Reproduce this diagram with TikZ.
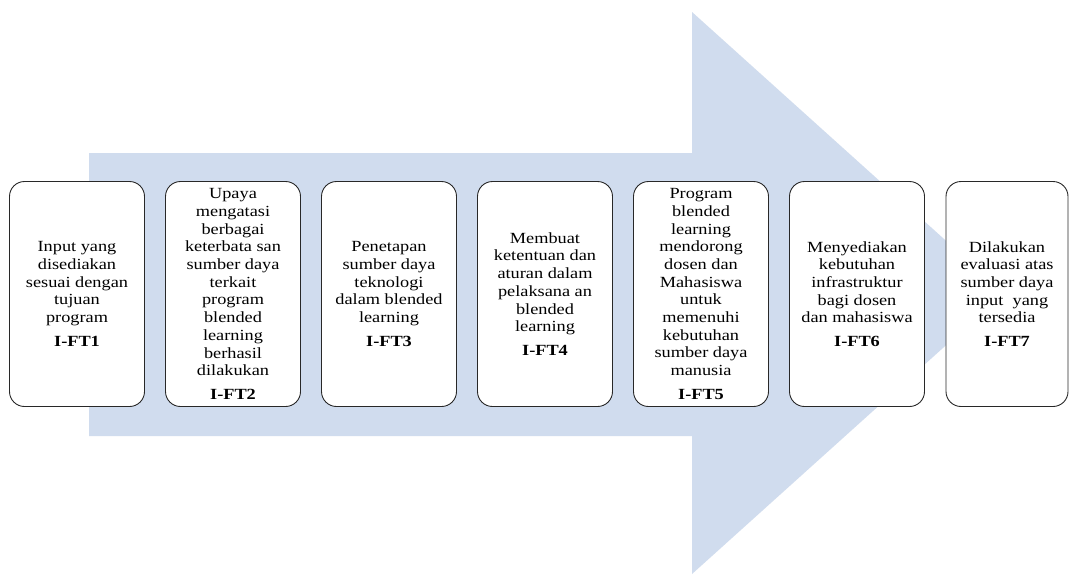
\documentclass[tikz,border=0pt]{standalone}
\usepackage{fontspec}
\setmainfont{Liberation Serif}[FakeStretch=1.18]
\definecolor{arrowblue}{RGB}{208,220,238}
\definecolor{boxline}{RGB}{40,40,40}
\tikzset{
  flowbox/.style={draw=boxline, line width=0.9pt, fill=white, rounded corners=15pt,
    minimum width=135pt, minimum height=225pt, align=center, inner sep=2pt,
    font=\fontsize{15.5pt}{17.7pt}\selectfont},
  bigarrow/.style={fill=arrowblue, draw=none}
}
\begin{document}
\begin{tikzpicture}[x=1pt,y=-1pt]
\useasboundingbox (0,0) rectangle (1070,574);
\fill[white] (0,0) rectangle (1070,574);
% big background arrow
\path[bigarrow] (89,153) -- (692,153) -- (692,12) -- (1004,293) -- (692,574) -- (692,436) -- (89,436) -- cycle;
% boxes
\node[flowbox] (b1) at (77,294) {Input yang\\disediakan\\sesuai dengan\\tujuan\\program\\[6pt]\textbf{I-FT1}};
\node[flowbox] (b2) at (233,294) {Upaya\\mengatasi\\berbagai\\keterbata san\\sumber daya\\terkait\\program\\blended\\learning\\berhasil\\dilakukan\\[6pt]\textbf{I-FT2}};
\node[flowbox] (b3) at (389,294) {Penetapan\\sumber daya\\teknologi\\dalam blended\\learning\\[6pt]\textbf{I-FT3}};
\node[flowbox] (b4) at (545,294) {Membuat\\ketentuan dan\\aturan dalam\\pelaksana an\\blended\\learning\\[6pt]\textbf{I-FT4}};
\node[flowbox] (b5) at (701,294) {Program\\blended\\learning\\mendorong\\dosen dan\\Mahasiswa\\untuk\\memenuhi\\kebutuhan\\sumber daya\\manusia\\[6pt]\textbf{I-FT5}};
\node[flowbox] (b6) at (857,294) {Menyediakan\\kebutuhan\\infrastruktur\\bagi dosen\\dan mahasiswa\\[6pt]\textbf{I-FT6}};
\node[flowbox, minimum width=122pt] (b7) at (1007,294) {Dilakukan\\evaluasi atas\\sumber daya\\input\ \ yang\\tersedia\\[6pt]\textbf{I-FT7}};
\end{tikzpicture}
\end{document}
